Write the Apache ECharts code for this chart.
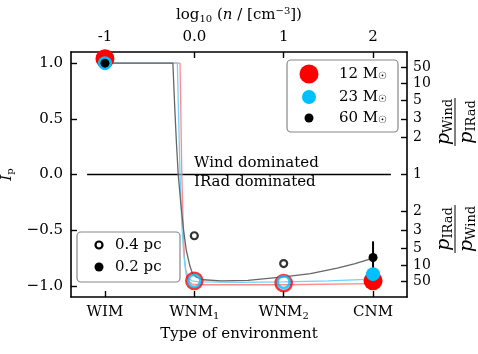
<!DOCTYPE html>
<html>
<head>
<meta charset="utf-8">
<script src="https://cdn.jsdelivr.net/npm/echarts@6/dist/echarts.min.js"></script>
<style>
  html, body { margin: 0; padding: 0; background: #fff; }
  #chart { width: 478px; height: 354px; }
</style>
</head>
<body>
<div id="chart"></div>
<script>
// categories sit on the log10(n) positions of the top axis
const envNames = ['WIM', 'WNM{s|1}', 'WNM{s|2}', 'CNM']
const envLogN = [-1, 0, 1, 2]
const topTickLabels = ['-1', '0.0', '1', '2']
const leftTicks = [-1, -0.5, 0, 0.5, 1]
// right axis: pressure ratio p_Wind/p_IRad, Ip = (r-1)/(r+1)
const ratioTicks = [50, 10, 5, 3, 2, 1]

// measured points (Ip), null where there is no point
// 0.2 pc = filled markers
const red02 = [1.04, null, null, -0.955]
const cyan02 = [1.0, null, null, -0.895]
const black02 = [1.0, null, null, -0.745]
const black02Err = [-0.89, -0.60]   // CNM error bar
// 0.4 pc = hollow markers
const red04 = [null, -0.955, -0.975, null]
const cyan04 = [null, -0.955, -0.965, null]
const black04 = [null, -0.55, -0.80, null]

// model curves [log10 n, Ip]
const curveGray = [[-1, 1.0], [-0.24, 1.0], [-0.22, 0.62], [-0.2, 0.28], [-0.18, 0.0], [-0.15, -0.27], [-0.12, -0.5], [-0.09, -0.68], [-0.05, -0.82], [-0.02, -0.89], [0.02, -0.92], [0.1, -0.945], [0.3, -0.955], [0.6, -0.95], [1.0, -0.92], [1.3, -0.89], [1.6, -0.84], [1.8, -0.8], [2.0, -0.75]]
const curveCyan = [[-1, 1.0], [-0.19, 1.0], [-0.175, 0.5], [-0.16, 0.0], [-0.14, -0.45], [-0.12, -0.7], [-0.1, -0.85], [-0.07, -0.92], [-0.03, -0.955], [0.05, -0.965], [0.5, -0.968], [1.0, -0.965], [1.5, -0.955], [2.0, -0.94]]
const curveRed = [[-1, 1.0], [-0.16, 1.0], [-0.15, 0.5], [-0.14, 0.0], [-0.125, -0.45], [-0.11, -0.75], [-0.09, -0.9], [-0.06, -0.96], [-0.02, -0.985], [0.1, -0.99], [1.0, -0.99], [2.0, -0.98]]
const zeroLine = [[-1.2, 0], [2.2, 0]]

const FONT = 'DejaVu Serif'
const rich = {
  s: { fontFamily: FONT, fontSize: 10, lineHeight: 10, verticalAlign: 'bottom', color: '#000' },
  p: { fontFamily: FONT, fontSize: 10, lineHeight: 10, verticalAlign: 'top', color: '#000' },
  i: { fontFamily: FONT, fontSize: 15, fontStyle: 'italic', color: '#000' },
}
const fracRich = {
  i: { fontFamily: FONT, fontSize: 19, fontStyle: 'italic', lineHeight: 22 },
  t: { fontFamily: FONT, fontSize: 13, verticalAlign: 'bottom', lineHeight: 13 },
}

const pts = vals => vals.map((v, k) => v == null ? null : [envLogN[k], v]).filter(Boolean)
const ratioVals = []
ratioTicks.forEach(r => { const v = (r - 1) / (r + 1); ratioVals.push(v); if (v) ratioVals.push(-v) })
ratioVals.sort((a, b) => a - b)

const axisBase = {
  type: 'value', min: -1.38, max: 2.38,
  axisLine: { show: true, onZero: false, lineStyle: { color: '#000', width: 1.6 } },
  axisTick: { show: true, inside: true, length: 6, lineStyle: { color: '#000', width: 1.4 }, customValues: envLogN },
  splitLine: { show: false },
}
const yBase = {
  type: 'value', min: -1.1, max: 1.1,
  axisLine: { show: true, onZero: false, lineStyle: { color: '#000', width: 1.6 } },
  splitLine: { show: false },
}

// fraction label drawn sideways next to the right axis
const fraction = (cy, top, bottom) => ({
  type: 'group', x: 455, y: cy, rotation: Math.PI / 2, z: 10,
  children: [
    { type: 'text', x: 0, y: -11, style: { text: top, rich: fracRich, align: 'center', verticalAlign: 'middle', fill: '#000' } },
    { type: 'line', shape: { x1: -24, y1: 0, x2: 24, y2: 0 }, style: { stroke: '#000', lineWidth: 1 } },
    { type: 'text', x: 0, y: 12, style: { text: bottom, rich: fracRich, align: 'center', verticalAlign: 'middle', fill: '#000' } },
  ],
})

const chart = echarts.init(document.getElementById('chart'), null, { renderer: 'canvas' })
chart.setOption({
  animation: false,
  grid: { left: 71, right: 71, top: 52, bottom: 57, outerBoundsMode: 'none', containLabel: false },
  xAxis: [
    Object.assign({}, axisBase, {
      position: 'bottom',
      name: 'Type of environment', nameLocation: 'middle', nameGap: 30,
      nameTextStyle: { fontFamily: FONT, fontSize: 15, color: '#000' },
      axisLabel: {
        customValues: envLogN, margin: 6, lineHeight: 18,
        fontFamily: FONT, fontSize: 15, color: '#000', rich: rich,
        formatter: v => envNames[envLogN.indexOf(v)],
      },
    }),
    Object.assign({}, axisBase, {
      position: 'top',
      name: 'log{s|10} ({i|n} / [cm{p|−3}])', nameLocation: 'middle', nameGap: 28,
      nameTextStyle: { fontFamily: FONT, fontSize: 15, color: '#000', lineHeight: 18, rich: rich },
      axisLabel: {
        customValues: envLogN, margin: 7,
        fontFamily: FONT, fontSize: 15, color: '#000',
        formatter: v => topTickLabels[envLogN.indexOf(v)],
      },
    }),
  ],
  yAxis: [
    Object.assign({}, yBase, {
      position: 'left',
      name: '{i|I}{s|p}', nameLocation: 'middle', nameGap: 50,
      nameTextStyle: { fontFamily: FONT, fontSize: 15, color: '#000', lineHeight: 18, rich: rich },
      axisTick: { show: true, inside: true, length: 6, lineStyle: { color: '#000', width: 1.4 }, customValues: leftTicks },
      axisLabel: {
        customValues: leftTicks, margin: 8,
        fontFamily: FONT, fontSize: 15, color: '#000',
        formatter: v => (v < 0 ? '−' : '') + Math.abs(v).toFixed(1),
      },
    }),
    Object.assign({}, yBase, {
      position: 'right',
      axisTick: { show: true, inside: true, length: 6, lineStyle: { color: '#000', width: 1.4 }, customValues: ratioVals },
      axisLabel: {
        customValues: ratioVals, margin: 6,
        fontFamily: FONT, fontSize: 14, color: '#000',
        formatter: v => { const a = Math.abs(v); return String(Math.round((1 + a) / (1 - a))) },
      },
    }),
  ],
  series: [
    { type: 'line', data: zeroLine, showSymbol: false, lineStyle: { color: '#000', width: 1.3 }, z: 1 },
    { type: 'line', data: curveRed, showSymbol: false, lineStyle: { color: '#ff8a8a', width: 1.3 }, z: 2 },
    { type: 'line', data: curveCyan, showSymbol: false, lineStyle: { color: '#6fd3ff', width: 1.3 }, z: 2 },
    { type: 'line', data: curveGray, showSymbol: false, lineStyle: { color: '#666', width: 1.3 }, z: 2 },
    { type: 'line', data: black02Err.map(v => [envLogN[3], v]), showSymbol: false, lineStyle: { color: '#000', width: 2 }, z: 3 },
    { name: '12 M☉ 0.2 pc', type: 'scatter', data: pts(red02), symbolSize: 19, itemStyle: { color: '#ff0000', opacity: 1 }, z: 4 },
    { name: '23 M☉ 0.2 pc', type: 'scatter', data: pts(cyan02), symbolSize: 14, itemStyle: { color: '#00bfff', opacity: 1 }, z: 5 },
    { name: '60 M☉ 0.2 pc', type: 'scatter', data: pts(black02), symbolSize: 9, itemStyle: { color: '#000', opacity: 1 }, z: 6 },
    { name: '12 M☉ 0.4 pc', type: 'scatter', data: pts(red04), symbolSize: 16, itemStyle: { color: 'rgba(0,0,0,0)', borderColor: '#ff0000', borderWidth: 2.6 }, z: 4 },
    { name: '23 M☉ 0.4 pc', type: 'scatter', data: pts(cyan04), symbolSize: 12, itemStyle: { color: 'rgba(0,0,0,0)', borderColor: '#00bfff', borderWidth: 2.6 }, z: 5 },
    { name: '60 M☉ 0.4 pc', type: 'scatter', data: pts(black04), symbolSize: 7, itemStyle: { color: 'rgba(255,255,255,0.6)', borderColor: '#000', borderWidth: 2.2 }, z: 6 },
  ],
  graphic: [
    { type: 'text', left: 194, top: 156, z: 10, style: { text: 'Wind dominated', font: '15px "DejaVu Serif"', fill: '#000' } },
    { type: 'text', left: 194, top: 175, z: 10, style: { text: 'IRad dominated', font: '15px "DejaVu Serif"', fill: '#000' } },
    fraction(122, '{i|p}{t|Wind}', '{i|p}{t|IRad}'),
    fraction(229, '{i|p}{t|IRad}', '{i|p}{t|Wind}'),
    // mass legend (top right)
    { type: 'rect', z: 20, shape: { x: 287, y: 60, width: 111, height: 72, r: 4 }, style: { fill: 'rgba(255,255,255,0.85)', stroke: '#888', lineWidth: 1.2 } },
    { type: 'circle', z: 21, shape: { cx: 309, cy: 74, r: 9.5 }, style: { fill: '#ff0000' } },
    { type: 'circle', z: 21, shape: { cx: 309, cy: 97, r: 7 }, style: { fill: '#00bfff' } },
    { type: 'circle', z: 21, shape: { cx: 309, cy: 118, r: 4.5 }, style: { fill: '#000' } },
    { type: 'text', z: 21, x: 339, y: 74, style: { text: '12 M{s|☉}', rich: rich, font: '15px "DejaVu Serif"', verticalAlign: 'middle', fill: '#000' } },
    { type: 'text', z: 21, x: 339, y: 97, style: { text: '23 M{s|☉}', rich: rich, font: '15px "DejaVu Serif"', verticalAlign: 'middle', fill: '#000' } },
    { type: 'text', z: 21, x: 339, y: 118, style: { text: '60 M{s|☉}', rich: rich, font: '15px "DejaVu Serif"', verticalAlign: 'middle', fill: '#000' } },
    // size legend (bottom left)
    { type: 'rect', z: 20, shape: { x: 77, y: 232, width: 103, height: 50, r: 4 }, style: { fill: 'rgba(255,255,255,0.85)', stroke: '#888', lineWidth: 1.2 } },
    { type: 'circle', z: 21, shape: { cx: 99, cy: 245, r: 3.5 }, style: { fill: '#fff', stroke: '#000', lineWidth: 2.2 } },
    { type: 'circle', z: 21, shape: { cx: 99, cy: 267, r: 4.5 }, style: { fill: '#000' } },
    { type: 'text', z: 21, x: 115, y: 245, style: { text: '0.4 pc', font: '15px "DejaVu Serif"', verticalAlign: 'middle', fill: '#000' } },
    { type: 'text', z: 21, x: 115, y: 267, style: { text: '0.2 pc', font: '15px "DejaVu Serif"', verticalAlign: 'middle', fill: '#000' } },
  ],
})
</script>
</body>
</html>
